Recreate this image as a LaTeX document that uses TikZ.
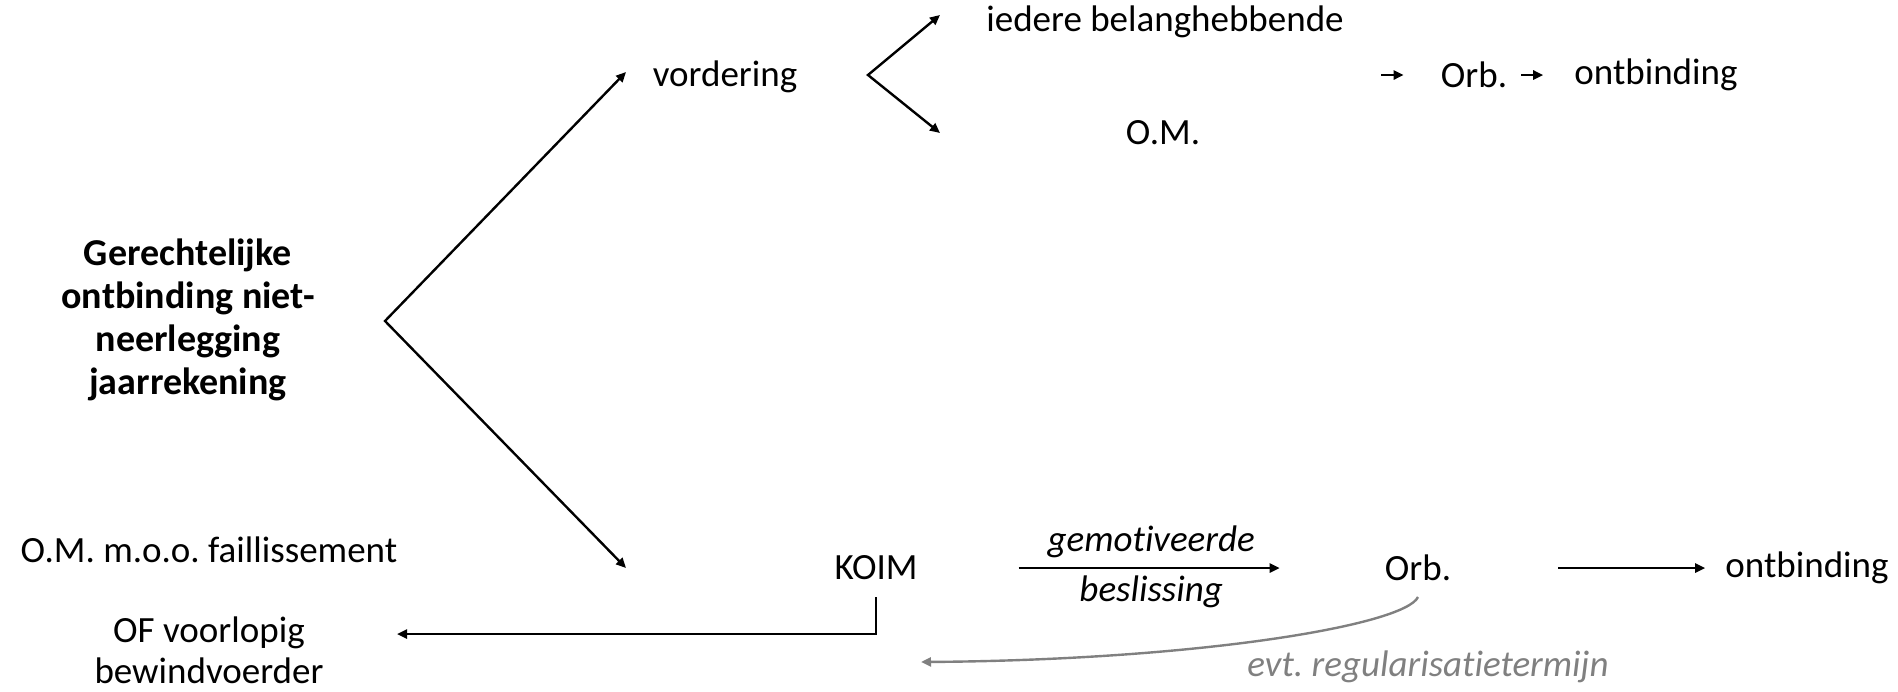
\documentclass[tikz,border=0pt]{standalone}
\usepackage{fontspec}
\setmainfont{Carlito}[RawFeature={-liga;-clig;-dlig;-calt}]
\usetikzlibrary{arrows.meta}
\definecolor{greyline}{HTML}{808080}
\frenchspacing
\begin{document}
\begin{tikzpicture}[x=1pt,y=1pt,
  txt/.style={font=\fontsize{37}{41}\selectfont, inner sep=0pt, align=center},
  ttl/.style={font=\fontsize{38}{43}\selectfont\bfseries, inner sep=0pt, align=center},
  lbl/.style={font=\fontsize{37}{41}\selectfont\itshape, inner sep=0pt},
  arr/.style={line width=2.4pt, -{Triangle[length=10pt,width=9pt]}},
  arrboth/.style={line width=2.4pt, {Triangle[length=10pt,width=9pt]}-{Triangle[length=10pt,width=9pt]}},
  garr/.style={line width=2.4pt, draw=greyline, -{Triangle[length=10pt,width=9pt]}}]
\useasboundingbox (0,0) rectangle (1898,-691);

% nodes
\node[ttl] (title) at (188,-320) {Gerechtelijke\\ontbinding niet-\\neerlegging\\jaarrekening};
\node[txt] (vord) at (725,-77) {vordering};
\node[txt] (ieder) at (1165,-22) {iedere belanghebbende};
\node[txt] (om1) at (1163,-133) {O.M.};
\node[txt] (orb1) at (1474,-75) {Orb.};
\node[txt] (ontb1) at (1656,-75) {ontbinding};
\node[txt] (omf) at (209,-550) {O.M. m.o.o. faillissement};
\node[txt] (koim) at (876,-568) {KOIM};
\node[txt] (orb2) at (1418,-568) {Orb.};
\node[txt] (ontb2) at (1807,-568) {ontbinding};
\node[txt] (ofv) at (209,-650) {OF voorlopig\\bewindvoerder};
\node[txt, font=\fontsize{37}{41}\selectfont\itshape, text=greyline] (evt) at (1428,-667) {evt. regularisatietermijn};

% coordinates
\coordinate (v1) at (385,-321);
\coordinate (t1) at (626,-72);
\coordinate (t2) at (626,-568);
\coordinate (v2) at (868,-75);
\coordinate (t3) at (940,-15);
\coordinate (t4) at (940,-133);
\coordinate (s1) at (1381,-75);
\coordinate (ofa) at (397,-634);
\coordinate (gt) at (921,-662);

% connectors
\draw[arrboth] (t1) -- (v1) -- (t2);
\draw[arrboth] (t3) -- (v2) -- (t4);
\draw[arr, shorten >=37pt] (s1) -- (orb1.west);
\draw[arr, shorten <=14pt, shorten >=31pt] (orb1.east) -- (ontb1.west);
\draw[arr, shorten <=101pt, shorten >=105pt] (koim.east) -- (orb2.west)
  node[lbl, midway, above=9pt] {gemotiveerde}
  node[lbl, midway, below=7pt] {beslissing};
\draw[arr, shorten <=107pt, shorten >=20pt] (orb2.east) -- (ontb2.west);
\draw[arr] (koim.south |- 0,-597) |- (ofa);
\draw[garr] (orb2.south |- 0,-597) .. controls (1405,-625) and (1200,-660) .. (gt);
\end{tikzpicture}
\end{document}
